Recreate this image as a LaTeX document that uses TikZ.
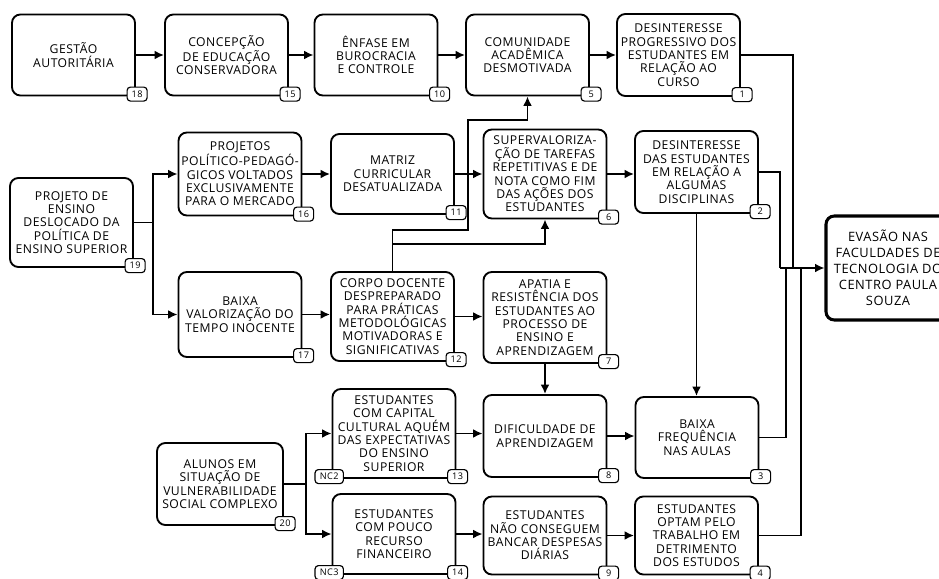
\documentclass[tikz,border=0pt]{standalone}
\usepackage{fontspec}
\setmainfont{Open Sans}[LetterSpace=4]
\usetikzlibrary{positioning, arrows.meta}

\begin{document}
\begin{tikzpicture}[x=0.03cm, y=-0.03cm,
		box/.style={draw, line width=1.6pt, rounded corners=0.25cm, fill=white, minimum width=3.69cm, align=center, inner sep=1pt, font=\fontsize{10.4}{11.4}\selectfont},
		num/.style={draw, line width=1pt, rounded corners=0.1cm, fill=white, minimum width=0.6cm, minimum height=0.42cm, inner sep=1pt, font=\fontsize{7.8}{8}\selectfont},
		arr/.style={line width=1.5pt, -{Latex[length=8pt,width=7.5pt]}},
		lin/.style={line width=1.5pt}]
			\useasboundingbox (0,0) rectangle (939,578);

			\node (n18) at (73.5,55) [box, minimum height=2.43cm] {GESTÃO\\AUTORITÁRIA};
			\node (n15) at (226.5,55) [box, minimum height=2.43cm] {CONCEPÇÃO\\DE EDUCAÇÃO\\CONSERVADORA};
			\node (n10) at (376,55) [box, minimum height=2.43cm] {ÊNFASE EM\\BUROCRACIA\\E CONTROLE};
			\node (n5) at (527.5,55) [box, minimum height=2.43cm] {COMUNIDADE\\ACADÊMICA\\DESMOTIVADA};
			\node (n1) at (678.5,55) [box, minimum height=2.46cm] {DESINTERESSE\\PROGRESSIVO DOS\\ESTUDANTES EM\\RELAÇÃO AO\\CURSO};

			\node (n19) at (71.5,222.5) [box, minimum height=2.67cm] {PROJETO DE\\ENSINO\\DESLOCADO DA\\POLÍTICA DE\\ENSINO SUPERIOR};
			\node (n16) at (240,174) [box, minimum height=2.49cm] {PROJETOS\\POLÍTICO-PEDAGÓ-\\GICOS VOLTADOS\\EXCLUSIVAMENTE\\PARA O MERCADO};
			\node (n11) at (392.5,174) [box, minimum height=2.4cm] {MATRIZ\\CURRICULAR\\DESATUALIZADA};
			\node (n6) at (545,174) [box, minimum height=2.67cm] {SUPERVALORIZA-\\ÇÃO DE TAREFAS\\REPETITIVAS E DE\\NOTA COMO FIM\\DAS AÇÕES DOS\\ESTUDANTES};
			\node (n2) at (696.5,172) [box, minimum height=2.46cm] {DESINTERESSE\\DAS ESTUDANTES\\EM RELAÇÃO A\\ALGUMAS\\DISCIPLINAS};
			\node (nE) at (888,268) [box, line width=2.6pt, minimum width=3.72cm, minimum height=3.12cm, font=\fontsize{11}{13.6}\selectfont] {EVASÃO NAS\\FACULDADES DE\\TECNOLOGIA DO\\CENTRO PAULA\\SOUZA};

			\node (n17) at (240,314.5) [box, minimum height=2.55cm] {BAIXA\\VALORIZAÇÃO DO\\TEMPO INOCENTE};
			\node (n12) at (392.5,316.5) [box, minimum height=2.67cm] {CORPO DOCENTE\\DESPREPARADO\\PARA PRÁTICAS\\METODOLÓGICAS\\MOTIVADORAS E\\SIGNIFICATIVAS};
			\node (n7) at (545,317.5) [box, minimum height=2.73cm] {APATIA E\\RESISTÊNCIA DOS\\ESTUDANTES AO\\PROCESSO DE\\ENSINO E\\APRENDIZAGEM};

			\node (n20) at (220,484) [box, minimum width=3.78cm, minimum height=2.46cm] {ALUNOS EM\\SITUAÇÃO DE\\VULNERABILIDADE\\SOCIAL COMPLEXO};
			\node (n13) at (394,433.5) [box, minimum height=2.67cm] {ESTUDANTES\\COM CAPITAL\\CULTURAL AQUÉM\\DAS EXPECTATIVAS\\DO ENSINO\\SUPERIOR};
			\node (n8) at (545,436) [box, minimum height=2.46cm] {DIFICULDADE DE\\APRENDIZAGEM};
			\node (n3) at (697,437.5) [box, minimum height=2.43cm] {BAIXA\\FREQUÊNCIA\\NAS AULAS};
			\node (n14) at (394,534) [box, minimum height=2.4cm] {ESTUDANTES\\COM POUCO\\RECURSO\\FINANCEIRO};
			\node (n9) at (545,535.5) [box, minimum height=2.34cm] {ESTUDANTES\\NÃO CONSEGUEM\\BANCAR DESPESAS\\DIÁRIAS};
			\node (n4) at (696.5,535.5) [box, minimum height=2.34cm] {ESTUDANTES\\OPTAM PELO\\TRABALHO EM\\DETRIMENTO\\DOS ESTUDOS};

			\coordinate (c1) at (793,268);
			\coordinate (c2) at (780,268);
			\coordinate (c3) at (786,268);
			\coordinate (c4) at (801,268);
			\coordinate (t1) at (468,230);
			\coordinate (t2) at (468,120);

			\draw[arr] (n18) -- (n15);
			\draw[arr] (n15) -- (n10);
			\draw[arr] (n10) -- (n5);
			\draw[arr] (n5) -- (n1);
			\draw[lin] (n1.east) -| (c1);
			\draw[lin] (n2.east) -| (c2);
			\draw[lin] (n3.east) -| (c3);
			\draw[lin] (n4.east) -| (c4);
			\draw[arr] (c2) -- (nE);
			\draw[arr] (n2.south) -- (n2.south |- n3.north);
			\draw[arr] (n19.east) -- ++(19,0) |- (n16);
			\draw[arr] (n19.east) -- ++(19,0) |- (n17);
			\draw[arr] (n16) -- (n11);
			\draw[arr] (n11) -- (n6);
			\draw[arr] (n6.east) -- (n6.east -| n2.west);
			\draw[arr] (n17.east) -- (n17.east -| n12.west);
			\draw[arr] (n12.east) -- (n12.east -| n7.west);
			\draw[arr] (n12.north) |- (t1) -- (t2) -| (n5.south);
			\draw[arr] (n12.north) -- ++(0,-27) -| (n6.south);
			\draw[arr] (n7) -- (n8);
			\draw[arr] (n20.east) -- ++(22,0) |- (n13);
			\draw[arr] (n20.east) -- ++(22,0) |- (n14);
			\draw[arr] (n13.east) -- (n13.east -| n8.west);
			\draw[arr] (n8.east) -- (n8.east -| n3.west);
			\draw[arr] (n14.east) -- (n14.east -| n9.west);
			\draw[arr] (n9.east) -- (n9.east -| n4.west);

			\node[num] (b18) at ([xshift=1pt,yshift=2pt]n18.south east) {18};
			\node[num] (b15) at ([xshift=1pt,yshift=2pt]n15.south east) {15};
			\node[num] (b10) at ([xshift=1pt,yshift=2pt]n10.south east) {10};
			\node[num] (b5) at ([xshift=1pt,yshift=2pt]n5.south east) {5};
			\node[num] (b1) at ([xshift=1pt,yshift=2pt]n1.south east) {1};
			\node[num] (b19) at ([xshift=1pt,yshift=2pt]n19.south east) {19};
			\node[num] (b16) at ([xshift=1pt,yshift=2pt]n16.south east) {16};
			\node[num] (b11) at ([xshift=1pt,yshift=2pt]n11.south east) {11};
			\node[num] (b6) at ([xshift=1pt,yshift=2pt]n6.south east) {6};
			\node[num] (b2) at ([xshift=1pt,yshift=2pt]n2.south east) {2};
			\node[num] (b17) at ([xshift=1pt,yshift=2pt]n17.south east) {17};
			\node[num] (b12) at ([xshift=1pt,yshift=2pt]n12.south east) {12};
			\node[num] (b7) at ([xshift=1pt,yshift=2pt]n7.south east) {7};
			\node[num] (b20) at ([xshift=1pt,yshift=2pt]n20.south east) {20};
			\node[num] (b13) at ([xshift=1pt,yshift=2pt]n13.south east) {13};
			\node[num] (b8) at ([xshift=1pt,yshift=2pt]n8.south east) {8};
			\node[num] (b3) at ([xshift=1pt,yshift=2pt]n3.south east) {3};
			\node[num] (b14) at ([xshift=1pt,yshift=2pt]n14.south east) {14};
			\node[num] (b9) at ([xshift=1pt,yshift=2pt]n9.south east) {9};
			\node[num] (b4) at ([xshift=1pt,yshift=2pt]n4.south east) {4};
			\node[num, minimum width=0.85cm] (nc2) at ([xshift=-2pt,yshift=2pt]n13.south west) {NC2};
			\node[num, minimum width=0.85cm] (nc3) at ([xshift=-2pt,yshift=2pt]n14.south west) {NC3};
		\end{tikzpicture}
\end{document}
